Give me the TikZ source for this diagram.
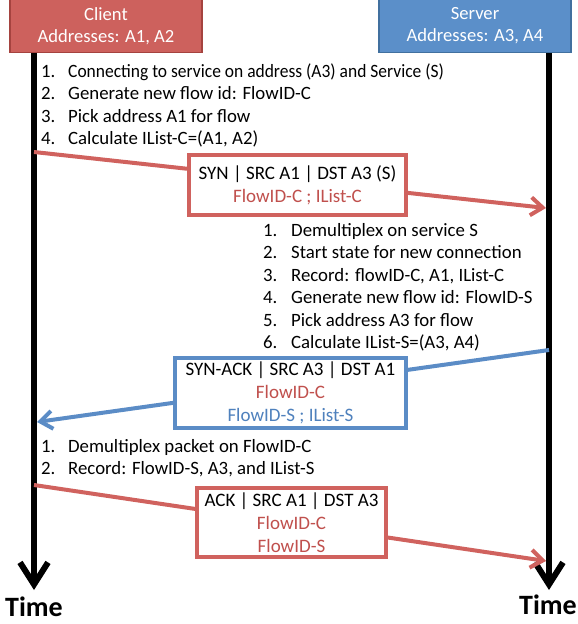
\documentclass[tikz,border=0pt]{standalone}
\usepackage{fontspec}
\setmainfont{Carlito}
\usetikzlibrary{arrows.meta}
\definecolor{cred}{HTML}{CD615D}
\definecolor{credb}{HTML}{A5433F}
\definecolor{cblue}{HTML}{5B8FC9}
\definecolor{cblueb}{HTML}{41709F}
\definecolor{lred}{HTML}{D0625E}
\definecolor{lblue}{HTML}{5B8CC6}
\definecolor{tred}{HTML}{C0504D}
\definecolor{tblue}{HTML}{4F81BD}
\begin{document}
\begin{tikzpicture}[x=1pt,y=-1pt,
  every node/.style={font=\fontsize{18.8}{22.5}\selectfont},
  hostbox/.style={draw, line width=1.5pt, text=white, minimum width=192pt, minimum height=53pt, align=center, inner sep=0pt, font=\fontsize{18.6}{22}\selectfont},
  timeline/.style={line width=6pt, -{Straight Barb[length=22pt,width=28pt]}},
  msgbox/.style={draw, fill=white, line width=4pt, align=center, inner sep=0pt, font=\fontsize{19}{23}\selectfont},
  msgline/.style={line width=4pt, -{Straight Barb[length=12pt,width=18pt]}},
  steps/.style={anchor=base west, inner sep=0pt},
  timelabel/.style={font=\fontsize{28}{28}\selectfont\bfseries, anchor=base, inner sep=0pt}]
\useasboundingbox (0,0) rectangle (578,624);
% hosts
\node[hostbox, fill=cred, draw=credb] (client) at (106,26) {Client\\Addresses: A1, A2};
\node[hostbox, fill=cblue, draw=cblueb] (server) at (475,26) {Server\\Addresses: A3, A4};
% timelines
\coordinate (ctop) at (34,53);
\coordinate (cend) at (34,590);
\coordinate (stop) at (549,53);
\coordinate (send) at (549,590);
\draw[timeline] (ctop) -- (cend);
\draw[timeline] (stop) -- (send);
\node[timelabel] (tl) at (34,616) {Time};
\node[timelabel] (tr) at (548,614) {Time};
% client steps 1
\node[steps] (cs1) at (41,77) {\begin{tabular}[t]{@{}p{27pt}@{}l@{}}
1. & \scalebox{0.93}[1]{Connecting to service on address (A3) and Service (S)}\\
2. & Generate new flow id: FlowID-C\\
3. & Pick address A1 for flow\\
4. & Calculate IList-C=(A1, A2)
\end{tabular}};
% SYN
\coordinate (c1) at (34,152);
\coordinate (s1) at (546,208);
\draw[msgline, lred] (c1) -- (s1);
\node[msgbox, draw=lred, minimum width=217pt, minimum height=60pt] (syn) at (297.5,185) {SYN | SRC A1 | DST A3 (S)\\\textcolor{tred}{FlowID-C ; IList-C}};
% server steps
\node[steps] (ss) at (263,236) {\begin{tabular}[t]{@{}p{28pt}@{}l@{}}
1. & Demultiplex on service S\\
2. & Start state for new connection\\
3. & Record: flowID-C, A1, IList-C\\
4. & Generate new flow id: FlowID-S\\
5. & Pick address A3 for flow\\
6. & Calculate IList-S=(A3, A4)
\end{tabular}};
% SYN-ACK
\coordinate (s2) at (549,350);
\coordinate (c2) at (37,422);
\draw[msgline, lblue] (s2) -- (c2);
\node[msgbox, draw=lblue, minimum width=231pt, minimum height=70pt] (synack) at (290.5,393) {SYN-ACK | SRC A3 | DST A1\\\textcolor{tred}{FlowID-C}\\\textcolor{tblue}{FlowID-S ; IList-S}};
% client steps 2
\node[steps] (cs2) at (41,452) {\begin{tabular}[t]{@{}p{27pt}@{}l@{}}
1. & Demultiplex packet on FlowID-C\\
2. & Record: FlowID-S, A3, and IList-S
\end{tabular}};
% ACK
\coordinate (c3) at (34,485);
\coordinate (s3) at (546,561);
\draw[msgline, lred] (c3) -- (s3);
\node[msgbox, draw=lred, minimum width=189pt, minimum height=69pt] (ack) at (291.5,522.5) {ACK | SRC A1 | DST A3\\\textcolor{tred}{FlowID-C}\\\textcolor{tred}{FlowID-S}};
\end{tikzpicture}
\end{document}
